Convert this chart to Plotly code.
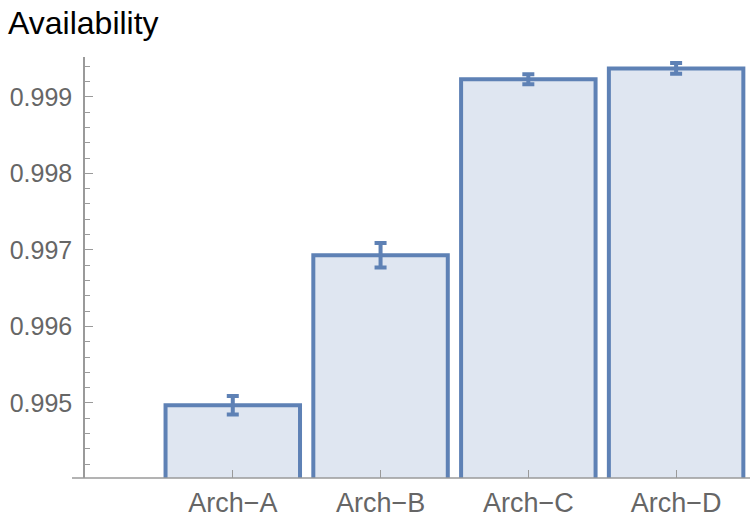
import plotly.graph_objects as go

categories = ["Arch\u2212A", "Arch\u2212B", "Arch\u2212C", "Arch\u2212D"]
positions = [1, 2, 3, 4]
availability = [0.99497, 0.99693, 0.99923, 0.99937]
errors = [0.00012, 0.00016, 0.000065, 0.00007]
y_ticks = [0.995, 0.996, 0.997, 0.998, 0.999]

edge = "#5E81B5"
fill = "#DFE6F1"
axis_gray = "#9a9a9a"
label_gray = "#666666"
font_family = "Liberation Sans, Arial, sans-serif"

fig = go.Figure()
fig.add_trace(go.Bar(
    x=positions,
    y=availability,
    width=0.91,
    marker=dict(color=fill, line=dict(color=edge, width=4)),
    error_y=dict(type="data", array=errors, visible=True,
                 color=edge, thickness=4, width=6),
    showlegend=False,
))

fig.update_layout(
    width=750, height=518,
    margin=dict(l=85, r=0, t=57, b=40),
    paper_bgcolor="white", plot_bgcolor="white",
    font=dict(family=font_family),
    title=dict(text="Availability", x=8/750, xanchor="left", xref="container",
               y=1-22.5/518, yanchor="middle", yref="container",
               pad=dict(l=0, r=0, t=0, b=0),
               font=dict(size=32, color="black", family=font_family)),
    xaxis=dict(range=[0, 4.5], tickvals=positions, ticktext=categories,
               showgrid=False, zeroline=False, showline=False,
               ticks="inside", ticklen=8, tickwidth=1.2, tickcolor=axis_gray,
               tickfont=dict(size=27, color=label_gray), ticklabelstandoff=6),
    yaxis=dict(range=[0.99402, 0.99952], tickvals=y_ticks, tickformat=".3f",
               showgrid=False, zeroline=False, showline=True,
               linecolor=axis_gray, linewidth=1.5,
               ticks="inside", ticklen=8, tickwidth=1.2, tickcolor=axis_gray,
               tickfont=dict(size=25, color=label_gray), ticklabelstandoff=6,
               minor=dict(dtick=0.0002, tick0=0.995, ticks="inside", ticklen=5,
                          tickwidth=1, tickcolor=axis_gray)),
    shapes=[dict(type="line", xref="paper", yref="paper",
                 x0=-13/665, x1=1, y0=0, y1=0,
                 line=dict(color=axis_gray, width=1.5))],
)

fig.write_html("out.html", config={"displayModeBar": False},
               post_script="document.body.style.margin='0';")
